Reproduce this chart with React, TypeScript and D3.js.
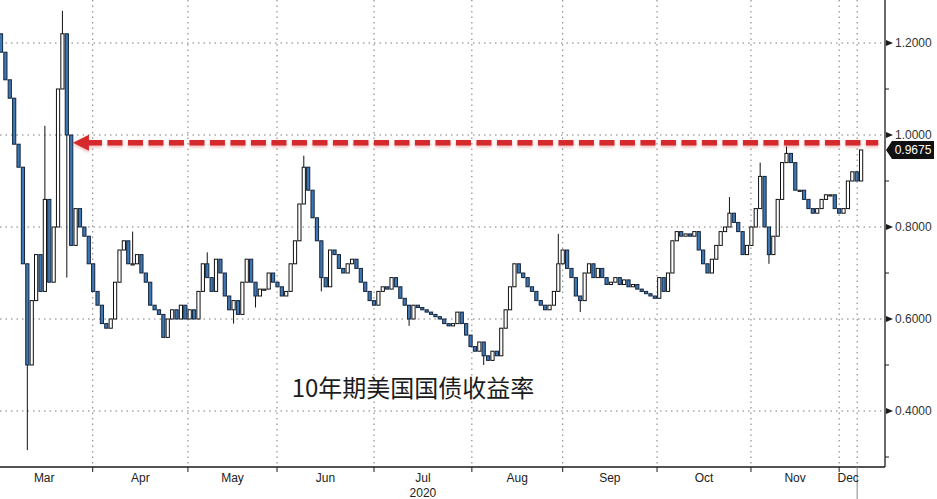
import React from "react";
import * as d3 from "d3";

// ---- data ----
const firstOpen = 1.22;
const closes: number[] = [
  1.18, 1.12, 1.08, 0.98, 0.93, 0.72, 0.50, 0.64, 0.74, 0.66,
  0.86, 0.68, 0.80, 1.10, 1.22, 1.00, 0.76, 0.84, 0.80, 0.78,
  0.72, 0.66, 0.63, 0.59, 0.58, 0.60, 0.68, 0.75, 0.77, 0.72,
  0.72, 0.74, 0.70, 0.68, 0.63, 0.62, 0.61, 0.56, 0.60, 0.62,
  0.60, 0.63, 0.60, 0.62, 0.60, 0.66, 0.72, 0.69, 0.66, 0.73,
  0.70, 0.65, 0.62, 0.64, 0.61, 0.68, 0.73, 0.68, 0.65, 0.665,
  0.665, 0.70, 0.68, 0.67, 0.65, 0.66, 0.72, 0.77, 0.85, 0.93,
  0.88, 0.82, 0.77, 0.69, 0.67, 0.75, 0.74, 0.71, 0.70, 0.72,
  0.73, 0.71, 0.68, 0.66, 0.64, 0.63, 0.66, 0.67, 0.665, 0.69,
  0.67, 0.645, 0.63, 0.60, 0.63, 0.625, 0.62, 0.615, 0.61, 0.605,
  0.60, 0.59, 0.585, 0.59, 0.615, 0.59, 0.565, 0.54, 0.53, 0.55,
  0.52, 0.51, 0.53, 0.52, 0.58, 0.62, 0.67, 0.72, 0.70, 0.69,
  0.67, 0.66, 0.64, 0.63, 0.62, 0.63, 0.66, 0.72, 0.75, 0.71,
  0.69, 0.65, 0.64, 0.70, 0.72, 0.69, 0.71, 0.69, 0.675, 0.68,
  0.69, 0.675, 0.685, 0.67, 0.675, 0.665, 0.66, 0.655, 0.65, 0.645,
  0.69, 0.66, 0.70, 0.77, 0.79, 0.78, 0.785, 0.78, 0.79, 0.75,
  0.72, 0.70, 0.73, 0.76, 0.79, 0.80, 0.83, 0.81, 0.79, 0.74,
  0.76, 0.80, 0.84, 0.91, 0.80, 0.74, 0.78, 0.86, 0.94, 0.96,
  0.94, 0.88, 0.88, 0.86, 0.84, 0.83, 0.84, 0.86, 0.87, 0.87,
  0.84, 0.83, 0.84, 0.90, 0.92, 0.90, 0.9675,
];
// intraday extremes that poke out of the candle bodies
const spikeIdx = [6, 10, 14, 15, 30, 47, 53, 58, 69, 73, 93, 110, 127, 132, 166, 173, 175, 179];
const spikeVal = [0.315, 1.02, 1.27, 0.69, 0.79, 0.745, 0.59, 0.625, 0.955, 0.66, 0.585, 0.50, 0.785, 0.615, 0.865, 0.94, 0.72, 0.975];

const monthLabels = ["Mar", "Apr", "May", "Jun", "Jul", "Aug", "Sep", "Oct", "Nov", "Dec"];
const monthStart = [-1.2, 20.9, 42.6, 62.9, 85.0, 107.3, 128.0, 149.5, 170.9, 191.0];
const currentMarker = 195.1;
const yearLabel = "2020";
const yearMonth = "Jul";

const majorTicks = [0.4, 0.6, 0.8, 1.0, 1.2];
const minorTicks = [0.3, 0.5, 0.7, 0.9, 1.1];

const refLevel = 0.983;
const arrowFrom = 16.4;
const arrowTo = 199.9;
const title = "10年期美国国债收益率";

// ---- layout ----
const W = 937;
const H = 499;
const axisX = 885;
const axisY = 467;

export default function App() {
  const x = d3.scaleLinear().domain([0, closes.length - 1]).range([1, 861.1]);
  const y = d3.scaleLinear().domain([0.4, 1.2]).range([411, 43]);

  const candles = closes.map((c, i) => {
    const o = i === 0 ? firstOpen : closes[i - 1];
    let hi = Math.max(o, c);
    let lo = Math.min(o, c);
    const s = spikeIdx.indexOf(i);
    if (s >= 0) {
      hi = Math.max(hi, spikeVal[s]);
      lo = Math.min(lo, spikeVal[s]);
    }
    return { i, o, c, hi, lo, up: c >= o };
  });

  const bw = 3.2;
  const lastVal = closes[closes.length - 1];
  const ly = y(lastVal);
  const ry = y(refLevel);
  const ax0 = x(arrowFrom);
  const ax1 = x(arrowTo);

  const mid = (k: number) =>
    k < monthStart.length - 1 ? (monthStart[k] + monthStart[k + 1]) / 2 : (monthStart[k] + currentMarker) / 2;

  const font = "'Liberation Sans', Arial, sans-serif";

  return (
    <svg width={W} height={H} style={{ display: "block", background: "#fff" }}>
      <style>{"body{margin:0}"}</style>
      <defs>
        <clipPath id="plot">
          <rect x={0} y={0} width={axisX} height={axisY} />
        </clipPath>
        <filter id="sh" x="-5%" y="-100%" width="110%" height="300%">
          <feDropShadow dx="0" dy="1.5" stdDeviation="1.6" floodColor="#d02020" floodOpacity="0.35" />
        </filter>
      </defs>

      {/* gridlines */}
      {majorTicks.map((t) => (
        <line key={"hg" + t} x1={0} x2={axisX} y1={y(t)} y2={y(t)} stroke="#7a7a7a" strokeWidth={1} strokeDasharray="1.5 4" />
      ))}
      {monthStart.slice(1).map((m, k) => (
        <line key={"vg" + k} x1={x(m)} x2={x(m)} y1={0} y2={axisY} stroke="#7a7a7a" strokeWidth={1} strokeDasharray="1.5 4" />
      ))}
      <line x1={x(currentMarker)} x2={x(currentMarker)} y1={0} y2={axisY} stroke="#7a7a7a" strokeWidth={1} strokeDasharray="1.5 4" />

      {/* candles */}
      <g clipPath="url(#plot)">
        {candles.map((d) => (
          <line key={"w" + d.i} x1={x(d.i)} x2={x(d.i)} y1={y(d.hi)} y2={y(d.lo)} stroke="#111" strokeWidth={1} />
        ))}
        {candles.map((d) => {
          const top = y(Math.max(d.o, d.c));
          const h = Math.max(1.2, y(Math.min(d.o, d.c)) - top);
          return (
            <rect
              key={"b" + d.i}
              x={x(d.i) - bw / 2}
              y={top}
              width={bw}
              height={h}
              fill={d.up ? "#ffffff" : "#3f77b3"}
              stroke={d.up ? "#111" : "#14263f"}
              strokeWidth={1}
            />
          );
        })}
      </g>

      {/* red dashed reference arrow */}
      <g filter="url(#sh)">
        <line x1={ax0 + 14} x2={ax1} y1={ry} y2={ry} stroke="#d42a2e" strokeWidth={5.5} strokeDasharray="15 5.5" />
        <path d={`M${ax0},${ry} L${ax0 + 16},${ry - 8} L${ax0 + 16},${ry + 8} Z`} fill="#d42a2e" />
      </g>

      {/* axes */}
      <line x1={axisX} x2={axisX} y1={0} y2={axisY} stroke="#1a1a1a" strokeWidth={1.3} />
      <line x1={0} x2={axisX} y1={axisY} y2={axisY} stroke="#1a1a1a" strokeWidth={1.3} />
      {minorTicks.map((t) => (
        <line key={"mt" + t} x1={axisX} x2={axisX + 4} y1={y(t)} y2={y(t)} stroke="#1a1a1a" strokeWidth={1} />
      ))}
      {majorTicks.map((t) => (
        <g key={"t" + t}>
          <path d={`M${axisX + 1},${y(t) - 3} L${axisX + 8},${y(t)} L${axisX + 1},${y(t) + 3} Z`} fill="#1a1a1a" />
          <text x={axisX + 10} y={y(t)} dy="0.35em" fontFamily={font} fontSize={12} fill="#333">
            {t.toFixed(4)}
          </text>
        </g>
      ))}

      {/* last value label */}
      <path
        d={`M${axisX + 1},${ly} L${axisX + 7},${ly - 9} L${axisX + 49},${ly - 9} L${axisX + 49},${ly + 9} L${axisX + 7},${ly + 9} Z`}
        fill="#111"
      />
      <text x={axisX + 28} y={ly} dy="0.36em" textAnchor="middle" fontFamily={font} fontSize={12} fill="#fff">
        {lastVal.toFixed(4)}
      </text>

      {/* x axis */}
      {monthStart.slice(1).map((m, k) => (
        <line key={"xt" + k} x1={x(m)} x2={x(m)} y1={axisY} y2={axisY + 5} stroke="#1a1a1a" strokeWidth={1} />
      ))}
      <line x1={x(currentMarker)} x2={x(currentMarker)} y1={axisY} y2={H} stroke="#888" strokeWidth={1} />
      {monthLabels.map((lab, k) => (
        <text key={"ml" + k} x={x(mid(k))} y={482} textAnchor="middle" fontFamily={font} fontSize={12} fill="#222">
          {lab}
        </text>
      ))}
      <text x={x(mid(monthLabels.indexOf(yearMonth)))} y={497} textAnchor="middle" fontFamily={font} fontSize={12} fill="#222">
        {yearLabel}
      </text>

      {/* title */}
      <text x={413} y={397} textAnchor="middle" fontFamily="'Noto Sans CJK SC', sans-serif" fontSize={24} fill="#1c1c1c">
        {title}
      </text>
    </svg>
  );
}
